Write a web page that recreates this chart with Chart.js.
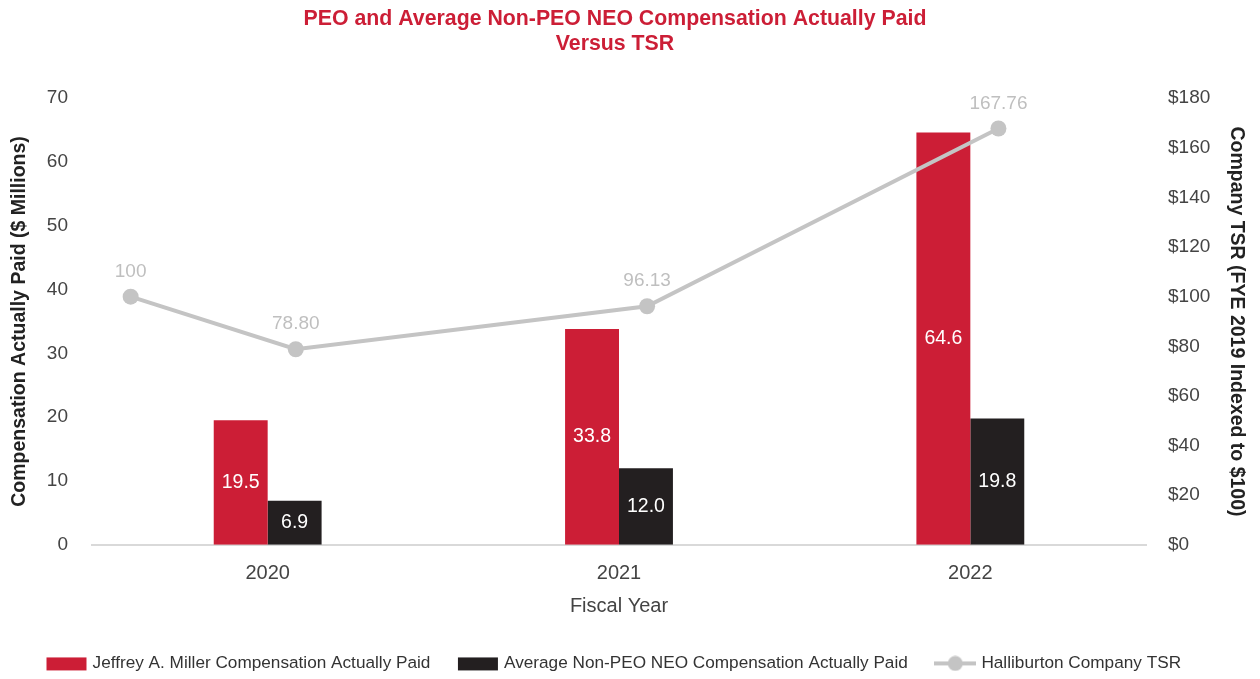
<!DOCTYPE html>
<html>
<head>
<meta charset="utf-8">
<script src="https://cdn.jsdelivr.net/npm/chart.js@4.4.1/dist/chart.umd.min.js"></script>
<style>
  html, body { margin: 0; padding: 0; background: #fff; }
  #wrap { width: 1260px; height: 679px; }
</style>
</head>
<body>
<div id="wrap"><canvas id="chart"></canvas></div>
<script>
// data
const fiscalYears = ['2020', '2021', '2022'];
const yearIndex = [0, 1, 2];
const peoPaid = [19.5, 33.8, 64.6];
const neoPaid = [6.9, 12.0, 19.8];
const tsrValues = [100, 78.80, 96.13, 167.76];
const tsrLabels = ['100', '78.80', '96.13', '167.76'];
// where the TSR points sit along the year axis (year-index units, first is FYE 2019)
const tsrPosition = [-0.39, 0.08, 1.08, 2.08];
const leftTicks = [0, 10, 20, 30, 40, 50, 60, 70];
const rightTicks = [0, 20, 40, 60, 80, 100, 120, 140, 160, 180];

const RED = '#cc1e36';
const BLACK = '#231f20';
const GREY = '#c4c4c4';
const FONT = '"Liberation Sans", Arial, Helvetica, sans-serif';

Chart.defaults.font.family = FONT;
Chart.defaults.color = '#444';

// small legend swatches
function swatch(kind, color) {
  const c = document.createElement('canvas');
  c.width = 42; c.height = 16;
  const g = c.getContext('2d');
  if (kind === 'box') {
    g.fillStyle = color;
    g.fillRect(1, 2, 40, 13);
  } else {
    g.strokeStyle = color;
    g.lineWidth = 4;
    g.beginPath(); g.moveTo(0, 8); g.lineTo(42, 8); g.stroke();
    g.fillStyle = color;
    g.beginPath(); g.arc(21, 8, 7.5, 0, Math.PI * 2); g.fill();
  }
  return c;
}

// value labels in bars and above TSR points
const valueLabels = {
  id: 'valueLabels',
  afterDatasetsDraw(chart) {
    const ctx = chart.ctx;
    ctx.save();
    ctx.textAlign = 'center';
    ctx.textBaseline = 'middle';
    [0, 1].forEach(i => {
      chart.getDatasetMeta(i).data.forEach((bar, j) => {
        const v = chart.data.datasets[i].data[j].y;
        ctx.font = '19.5px ' + FONT;
        ctx.fillStyle = '#fff';
        ctx.fillText(v.toFixed(1), bar.x, (bar.y + bar.base) / 2);
      });
    });
    chart.getDatasetMeta(2).data.forEach((pt, j) => {
      ctx.font = '19px ' + FONT;
      ctx.fillStyle = '#bfbfbf';
      ctx.fillText(tsrLabels[j], pt.x, pt.y - 25);
    });
    ctx.restore();
  }
};

new Chart(document.getElementById('chart'), {
  data: {
    datasets: [
      {
        type: 'bar', label: 'Jeffrey A. Miller Compensation Actually Paid',
        data: peoPaid.map((v, i) => ({ x: yearIndex[i], y: v })),
        backgroundColor: RED, yAxisID: 'y',
        categoryPercentage: 0.307, barPercentage: 1, order: 2
      },
      {
        type: 'bar', label: 'Average Non-PEO NEO Compensation Actually Paid',
        data: neoPaid.map((v, i) => ({ x: yearIndex[i], y: v })),
        backgroundColor: BLACK, yAxisID: 'y',
        categoryPercentage: 0.307, barPercentage: 1, order: 2
      },
      {
        type: 'line', label: 'Halliburton Company TSR',
        data: tsrValues.map((v, i) => ({ x: tsrPosition[i], y: v })),
        borderColor: GREY, backgroundColor: GREY, borderWidth: 4,
        pointRadius: 8, pointBackgroundColor: GREY, pointBorderWidth: 0,
        yAxisID: 'y1', order: 1, clip: false
      }
    ]
  },
  options: {
    responsive: true,
    maintainAspectRatio: false,
    animation: false,
    layout: { padding: { left: 0, right: 30, top: 6, bottom: -3 } },
    plugins: {
      title: {
        display: true,
        text: ['PEO and Average Non-PEO NEO Compensation Actually Paid', 'Versus TSR'],
        color: RED,
        font: { size: 21.3, weight: 'bold', lineHeight: 1.2 },
        padding: { top: 0, bottom: 41 }
      },
      legend: {
        position: 'bottom',
        labels: {
          usePointStyle: true,
          pointStyleWidth: 35,
          boxHeight: 14,
          padding: 30,
          color: '#333',
          font: { size: 17.2 },
          generateLabels(chart) {
            const kinds = ['box', 'box', 'line'];
            const cols = [RED, BLACK, GREY];
            return chart.data.datasets.map((ds, i) => ({
              text: ds.label, datasetIndex: i, hidden: false, fontColor: '#333',
              pointStyle: swatch(kinds[i], cols[i]),
              fillStyle: cols[i], strokeStyle: cols[i], lineWidth: 0
            }));
          }
        }
      },
      tooltip: { enabled: false }
    },
    scales: {
      x: {
        type: 'linear', min: -0.5, max: 2.5, offset: false,
        afterBuildTicks(axis) { axis.ticks = yearIndex.map(v => ({ value: v })); },
        afterFit(axis) { axis.height = 80; },
        grid: { display: false, drawTicks: false },
        border: { display: true, color: '#d9d9d9', width: 2 },
        ticks: { color: '#444', font: { size: 20 }, padding: 17, callback: v => fiscalYears[v] },
        title: { display: true, text: 'Fiscal Year', color: '#444', font: { size: 20 }, padding: { top: 0, bottom: 6 } }
      },
      y: {
        position: 'left', min: 0, max: 70,
        afterBuildTicks(axis) { axis.ticks = leftTicks.map(v => ({ value: v })); },
        afterFit(axis) { axis.width = 92; },
        grid: { display: false, drawTicks: false },
        border: { display: false },
        ticks: { color: '#444', font: { size: 19 }, padding: 24 },
        title: { display: true, text: 'Compensation Actually Paid ($ Millions)', color: '#222', font: { size: 19.5, weight: 'bold' }, padding: { top: 8, bottom: 0 } }
      },
      y1: {
        position: 'right', min: 0, max: 180,
        afterBuildTicks(axis) { axis.ticks = rightTicks.map(v => ({ value: v })); },
        afterFit(axis) { axis.width = 84; },
        grid: { display: false, drawTicks: false },
        border: { display: false },
        ticks: { color: '#444', font: { size: 19 }, padding: 22, callback: v => '$' + v },
        title: { display: true, text: 'Company TSR (FYE 2019 Indexed to $100)', color: '#222', font: { size: 19.5, weight: 'bold' }, padding: { top: -18, bottom: 0 } }
      }
    }
  },
  plugins: [valueLabels]
});
</script>
</body>
</html>
